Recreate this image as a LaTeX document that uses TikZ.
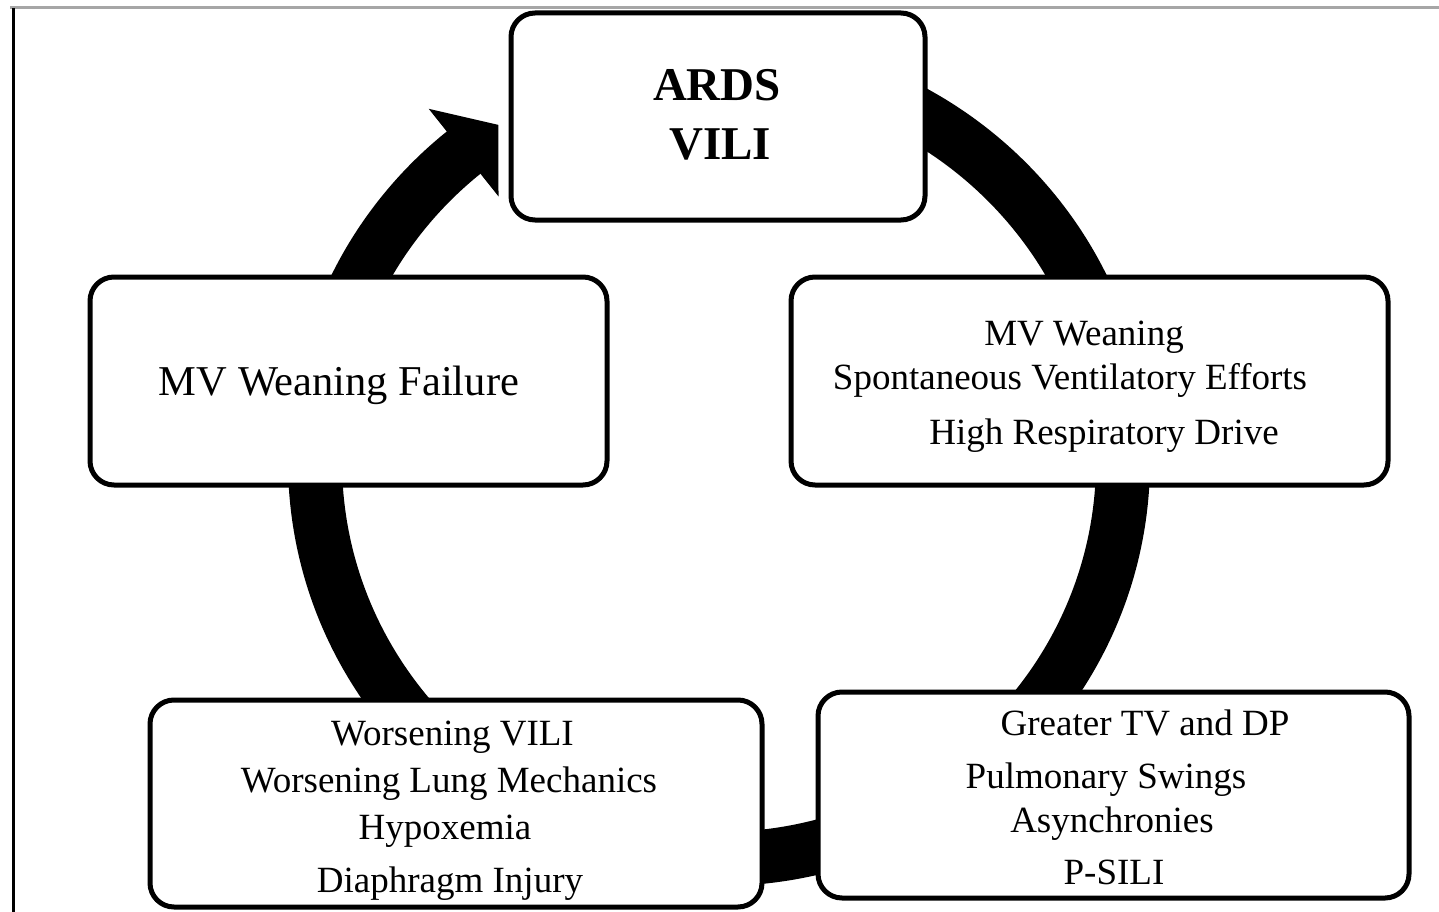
\documentclass[tikz,border=0pt]{standalone}
\usepackage{fontspec}
\setmainfont{Liberation Serif}
\begin{document}
\begin{tikzpicture}[x=1pt,y=-1pt,
  box/.style={draw=black, line width=5pt, rounded corners=24pt, fill=white, inner sep=0pt},
  txt/.style={anchor=base, inner sep=0pt, text=black, font=\fontsize{37pt}{40pt}\selectfont},
  bigtxt/.style={anchor=base, inner sep=0pt, text=black, font=\fontsize{42.5pt}{46pt}\selectfont},
  ttl/.style={anchor=base, inner sep=0pt, text=black, font=\bfseries\fontsize{47pt}{50pt}\selectfont},
  ring/.style={line width=54pt, draw=black}]
\useasboundingbox (0,0) rectangle (1439,912);
\fill[white] (0,0) rectangle (1439,912);
% frame
\coordinate (ftl) at (10,8);
\coordinate (ftr) at (1439,8);
\coordinate (fl1) at (13,8);
\coordinate (fl2) at (13,912);
\draw[gray!70, line width=3pt] (ftl) -- (ftr);
\draw[black, line width=3pt] (fl1) -- (fl2);
% ring (cycle arrow)
\coordinate (rs) at (719,63);
\draw[ring] (rs) arc[start angle=-90, end angle=231, x radius=404, y radius=398];
\coordinate (ab1) at (428.7,108.8);
\coordinate (ab2) at (498.5,196.4);
\coordinate (atip) at (498.4,124.9);
\fill[black] (ab1) -- (atip) -- (ab2) -- cycle;
% boxes
\node[box, minimum width=414pt, minimum height=207pt] (ards) at (718,116.5) {};
\node[box, minimum width=517pt, minimum height=208pt] (fail) at (348.5,381) {};
\node[box, minimum width=597pt, minimum height=208pt] (wean) at (1089.5,381) {};
\node[box, minimum width=612pt, minimum height=207pt] (worse) at (456,803.5) {};
\node[box, minimum width=591pt, minimum height=206pt] (great) at (1113.5,795) {};
% texts
\node[ttl] (ards1) at (717,101) {ARDS};
\node[ttl] (ards2) at (720,160) {VILI};
\node[bigtxt] (fail1) at (339,395) {MV Weaning Failure};
\node[txt] (wean1) at (1084,345) {MV Weaning};
\node[txt] (wean2) at (1070,389) {Spontaneous Ventilatory Efforts};
\node[txt] (wean3) at (1104,444) {High Respiratory Drive};
\node[txt] (worse1) at (452.5,745) {Worsening VILI};
\node[txt] (worse2) at (449,792) {Worsening Lung Mechanics};
\node[txt] (worse3) at (445,839) {Hypoxemia};
\node[txt] (worse4) at (450,892) {Diaphragm Injury};
\node[txt] (great1) at (1145,735) {Greater TV and DP};
\node[txt] (great2) at (1106,788) {Pulmonary Swings};
\node[txt] (great3) at (1112,832) {Asynchronies};
\node[txt] (great4) at (1114,884) {P-SILI};
\end{tikzpicture}
\end{document}
